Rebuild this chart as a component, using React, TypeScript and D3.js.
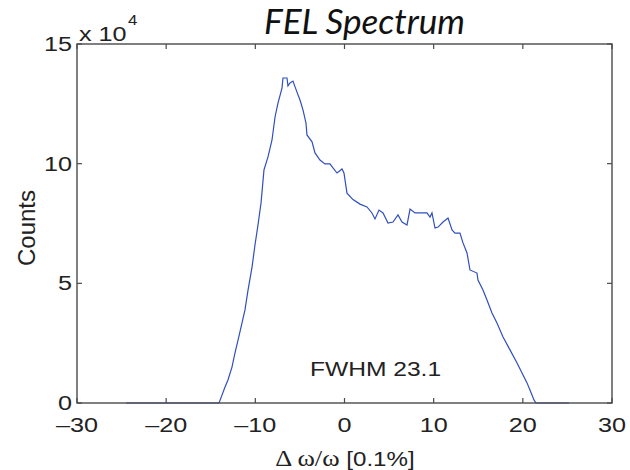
import React from "react";
import * as d3 from "d3";

const xs = [-24.5, -14.07, -13.74, -13.4, -13.07, -12.62, -12.28, -11.94, -11.5, -11.16, -10.82, -10.37, -10.04, -9.7, -9.36, -9.03, -8.58, -8.13, -7.79, -7.46, -7.01, -6.9, -6.45, -6.34, -6.11, -5.78, -5.33, -4.99, -4.65, -4.32, -4.21, -3.64, -3.31, -2.75, -2.19, -1.63, -1.29, -0.84, -0.28, -0.06, 0.28, 0.95, 1.74, 2.52, 3.08, 3.42, 3.87, 4.32, 4.88, 5.44, 6.0, 6.45, 7.01, 7.35, 7.91, 8.47, 9.25, 9.59, 9.81, 10.15, 10.49, 11.05, 11.61, 12.06, 12.39, 12.95, 13.29, 13.74, 14.07, 14.86, 14.97, 15.53, 15.98, 16.54, 17.1, 17.78, 18.56, 19.35, 19.91, 20.47, 20.8, 21.25, 21.47, 25.18];
const counts = [0, 0, 0.33, 0.67, 0.96, 1.5, 2.09, 2.63, 3.34, 3.89, 4.72, 5.68, 6.6, 7.44, 8.36, 9.74, 10.28, 10.99, 11.95, 12.53, 13.16, 13.58, 13.58, 13.25, 13.37, 13.45, 12.99, 12.66, 12.24, 11.7, 11.2, 10.91, 10.45, 10.15, 9.99, 9.99, 9.82, 9.61, 9.78, 9.61, 8.77, 8.5, 8.31, 8.19, 7.94, 7.69, 8.06, 7.94, 7.52, 7.56, 7.86, 7.56, 7.44, 8.1, 7.94, 7.94, 7.94, 7.77, 7.94, 7.31, 7.35, 7.56, 7.73, 7.23, 7.1, 7.1, 6.69, 6.27, 5.56, 5.43, 5.14, 4.72, 4.3, 3.76, 3.34, 2.76, 2.22, 1.67, 1.25, 0.84, 0.54, 0.13, 0, 0];

const xTicks = [-30, -20, -10, 0, 10, 20, 30];
const yTicks = [0, 5, 10, 15];
const title = "FEL Spectrum";
const xLabelSym = "\u0394 \u03c9/\u03c9";
const xLabelUnit = " [0.1%]";
const yLabel = "Counts";
const annotation = "FWHM 23.1";

const W = 630, H = 470;
const L = 77, R = 612, T = 44, B = 403;
const SANS = "'Liberation Sans', Arial, Helvetica, sans-serif";
const SX = 1.2;

function fmtMinus(v: number) {
  return v < 0 ? "\u2013" + Math.abs(v) : String(v);
}

function SText({ x, y, anchor, size, children, fill = "#222" }: any) {
  return (
    <g transform={`translate(${x},${y})`}>
      <text transform={`scale(${SX},1)`} textAnchor={anchor} fontSize={size} fontFamily={SANS} fill={fill}>
        {children}
      </text>
    </g>
  );
}

export default function App() {
  const x = d3.scaleLinear().domain([-30, 30]).range([L, R]);
  const y = d3.scaleLinear().domain([0, 15]).range([B, T]);
  const data = xs.map((v, i) => [v, counts[i]] as [number, number]);
  const line = d3
    .line<[number, number]>()
    .x((d) => x(d[0]))
    .y((d) => y(d[1]))
    .curve(d3.curveLinear);
  const tl = 5;
  const axisColor = "#4a4a4a";
  return (
    <svg width={W} height={H} style={{ position: "absolute", left: 0, top: 0, background: "#fff" }}>
      <rect x={0} y={0} width={W} height={H} fill="#fff" />
      {/* title */}
      <text x={264} y={34} fontFamily="Lato, 'Open Sans', sans-serif" fontStyle="italic" fontSize={34} textLength={201} lengthAdjust="spacingAndGlyphs" fill="#111">
        {title}
      </text>
      {/* curve */}
      <path d={line(data) || ""} fill="none" stroke="#2f4fbf" strokeWidth={1.2} strokeLinejoin="miter" />
      {/* frame */}
      <rect x={L} y={T} width={R - L} height={B - T} fill="none" stroke={axisColor} strokeWidth={1.4} />
      {xTicks.map((t) => (
        <g key={"xt" + t}>
          <line x1={x(t)} x2={x(t)} y1={B} y2={B - tl} stroke={axisColor} strokeWidth={1.2} />
          <line x1={x(t)} x2={x(t)} y1={T} y2={T + tl} stroke={axisColor} strokeWidth={1.2} />
          <SText x={x(t)} y={432} anchor="middle" size={21}>{fmtMinus(t)}</SText>
        </g>
      ))}
      {yTicks.map((t) => (
        <g key={"yt" + t}>
          <line x1={L} x2={L + tl} y1={y(t)} y2={y(t)} stroke={axisColor} strokeWidth={1.2} />
          <line x1={R} x2={R - tl} y1={y(t)} y2={y(t)} stroke={axisColor} strokeWidth={1.2} />
          <SText x={72} y={y(t) + 7} anchor="end" size={21}>{String(t)}</SText>
        </g>
      ))}
      {/* exponent */}
      <SText x={79} y={41} anchor="start" size={21}>{"x 10"}</SText>
      <SText x={128} y={25} anchor="start" size={14}>{"4"}</SText>
      {/* y label */}
      <text transform={`translate(35,228) rotate(-90)`} textAnchor="middle" fontFamily={SANS} fontSize={24} fill="#222">
        {yLabel}
      </text>
      {/* x label */}
      <g transform="translate(345,466)">
        <text transform="scale(1.15,1)" textAnchor="middle" fontSize={21} fill="#222">
          <tspan fontFamily="'Liberation Serif', 'Times New Roman', serif" fontSize={23}>{xLabelSym}</tspan>
          <tspan fontFamily={SANS}>{xLabelUnit}</tspan>
        </text>
      </g>
      {/* annotation */}
      <SText x={310} y={376} anchor="start" size={20.5}>{annotation}</SText>
    </svg>
  );
}
